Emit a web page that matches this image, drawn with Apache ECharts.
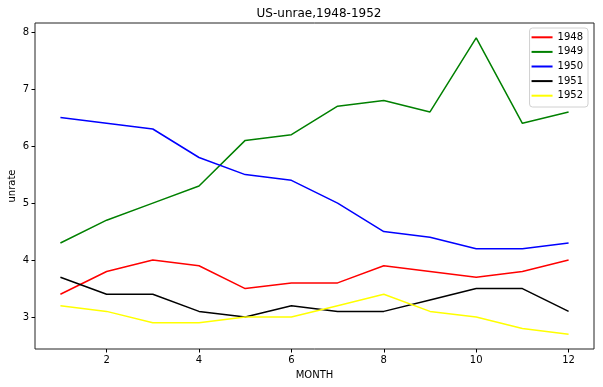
<!DOCTYPE html>
<html>
<head>
<meta charset="utf-8">
<script src="https://cdn.jsdelivr.net/npm/echarts@6/dist/echarts.min.js"></script>
<style>html,body{margin:0;padding:0;background:#fff}#c{width:603px;height:387px}</style>
</head>
<body>
<div id="c"></div>
<script>
const months = [1,2,3,4,5,6,7,8,9,10,11,12];
const y1948 = [3.4,3.8,4.0,3.9,3.5,3.6,3.6,3.9,3.8,3.7,3.8,4.0];
const y1949 = [4.3,4.7,5.0,5.3,6.1,6.2,6.7,6.8,6.6,7.9,6.4,6.6];
const y1950 = [6.5,6.4,6.3,5.8,5.5,5.4,5.0,4.5,4.4,4.2,4.2,4.3];
const y1951 = [3.7,3.4,3.4,3.1,3.0,3.2,3.1,3.1,3.3,3.5,3.5,3.1];
const y1952 = [3.2,3.1,2.9,2.9,3.0,3.0,3.2,3.4,3.1,3.0,2.8,2.7];
const xTicks = [2,4,6,8,10,12];
const yTicks = [3,4,5,6,7,8];
const seriesNames = ['1948','1949','1950','1951','1952'];
const seriesData = [y1948,y1949,y1950,y1951,y1952];
const colors = ['#ff0000','#008000','#0000ff','#000000','#ffff00'];

const font = 'DejaVu Sans';
const chart = echarts.init(document.getElementById('c'), null, {renderer:'canvas'});
chart.setOption({
  animation:false,
  backgroundColor:'#fff',
  title:{text:'US-unrae,1948-1952',left:314,top:3,textAlign:'center',
    textStyle:{fontFamily:font,fontSize:12,fontWeight:'normal',color:'#000'}},
  legend:{orient:'vertical',right:15,top:28,icon:'rect',itemWidth:21,itemHeight:2,itemGap:0,
    data:seriesNames,
    borderColor:'#d0d0d0',borderWidth:1,borderRadius:3,padding:[2,5,4,2],
    textStyle:{fontFamily:font,fontSize:10,color:'#000',lineHeight:14.6}},
  grid:{left:35,right:9,top:23,bottom:38,outerBoundsMode:'none',containLabel:false,show:true,borderColor:'#222',borderWidth:1,backgroundColor:'transparent'},
  xAxis:{type:'value',min:0.45,max:12.55,name:'MONTH',nameLocation:'middle',nameGap:21,nameMoveOverlap:false,
    nameTextStyle:{fontFamily:font,fontSize:10,color:'#000'},
    axisLine:{show:false},
    splitLine:{show:false},
    axisTick:{show:true,length:3.5,inside:false,customValues:xTicks,lineStyle:{color:'#000'}},
    axisLabel:{customValues:xTicks,fontFamily:font,fontSize:10,color:'#000',margin:6}},
  yAxis:{type:'value',min:2.44,max:8.16,name:'unrate',nameLocation:'middle',nameGap:18,nameMoveOverlap:false,
    nameTextStyle:{fontFamily:font,fontSize:10,color:'#000'},
    axisLine:{show:false},
    splitLine:{show:false},
    axisTick:{show:true,length:3.5,inside:false,customValues:yTicks,lineStyle:{color:'#000'}},
    axisLabel:{customValues:yTicks,fontFamily:font,fontSize:10,color:'#000',margin:6}},
  series: seriesNames.map((n,i)=>({
    name:n,type:'line',symbol:'none',
    data: months.map((m,j)=>[m,seriesData[i][j]]),
    lineStyle:{color:colors[i],width:1.5},
    itemStyle:{color:colors[i]}
  }))
});
</script>
</body>
</html>
